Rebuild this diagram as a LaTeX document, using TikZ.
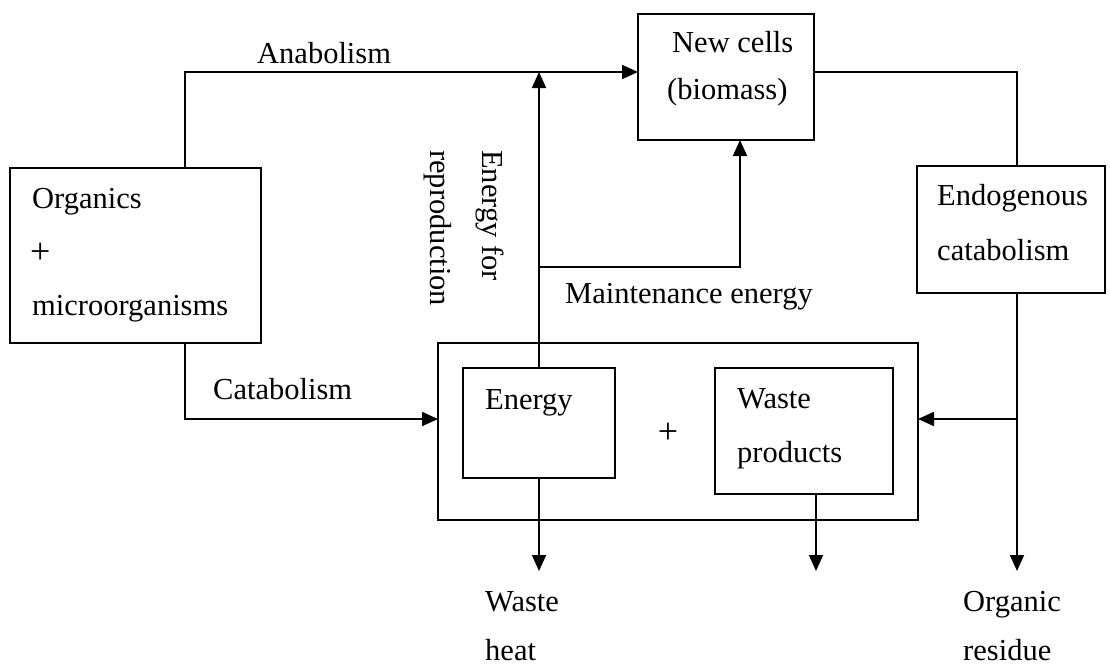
\documentclass[tikz,border=0pt]{standalone}
\usepackage{fontspec}
\setmainfont{Liberation Serif}
\usetikzlibrary{arrows.meta}
\begin{document}
\begin{tikzpicture}[x=1pt,y=-1pt,
  box/.style={draw, line width=1.8pt, inner sep=0pt, outer sep=0pt, anchor=north west},
  arr/.style={line width=1.8pt, -{Triangle[length=16pt,width=14pt]}},
  conn/.style={line width=1.8pt},
  txt/.style={inner sep=0pt, anchor=base west, font=\fontsize{30.5}{36}\selectfont},
  plustxt/.style={txt, font=\fontsize{36}{40}\selectfont},
  rtxt/.style={txt, rotate=-90}]
\useasboundingbox (0,0) rectangle (1110,664);
% boxes
\node[box, minimum width=251pt, minimum height=175pt] (org) at (10,168) {};
\node[box, minimum width=176pt, minimum height=126pt] (cells) at (638,14) {};
\node[box, minimum width=188pt, minimum height=127pt] (endo) at (917,166) {};
\node[box, minimum width=480pt, minimum height=177pt] (big) at (438,343) {};
\node[box, minimum width=152pt, minimum height=110pt] (energy) at (463,368) {};
\node[box, minimum width=178pt, minimum height=126pt] (waste) at (715,368) {};
% coordinates
\coordinate (anaY) at ([yshift=5pt]cells.west);
\coordinate (mj) at (539,267);
\coordinate (br) at (1017,419);
\coordinate (resid) at (1017,571);
\coordinate (wh) at (539,571);
\coordinate (wp) at (816,571);
% connectors
\draw[arr] ([xshift=175pt]org.north west) |- (anaY);
\draw[arr] ([xshift=175pt]org.south west) |- ([yshift=12.5pt]big.west);
\draw[arr] (energy.north) -- (energy.north |- anaY);
\draw[arr] (mj) -| ([xshift=14pt]cells.south);
\draw[conn] ([yshift=5pt]cells.east) -| ([xshift=6pt]endo.north);
\draw[arr] ([xshift=6pt]endo.south) -- (resid);
\draw[arr] (br) -- (big.east |- br);
\draw[arr] (energy.south) -- (wh);
\draw[arr] ([xshift=12pt]waste.south) -- (wp);
% texts
\node[txt] (tana) at (257,63) {Anabolism};
\node[txt] (torg1) at (32,208) {Organics};
\node[plustxt] (torg2) at (30,263) {+};
\node[txt] (torg3) at (32,315) {microorganisms};
\node[txt] (tcel1) at (672,52) {New cells};
\node[txt] (tcel2) at (667,99) {(biomass)};
\node[rtxt] (trep1) at (482,150) {Energy for};
\node[rtxt] (trep2) at (430,150) {reproduction};
\node[txt] (tmai) at (565,303) {Maintenance energy};
\node[txt] (tend1) at (937,205) {Endogenous};
\node[txt] (tend2) at (937,260) {catabolism};
\node[txt] (tcat) at (213,399) {Catabolism};
\node[txt] (tene) at (485,409) {Energy};
\node[plustxt, anchor=base] (tplus) at (668,443) {+};
\node[txt] (twp1) at (737,408) {Waste};
\node[txt] (twp2) at (737,462) {products};
\node[txt] (twh1) at (485,611) {Waste};
\node[txt] (twh2) at (485,660) {heat};
\node[txt] (tor1) at (963,611) {Organic};
\node[txt] (tor2) at (963,660) {residue};
\end{tikzpicture}
\end{document}
